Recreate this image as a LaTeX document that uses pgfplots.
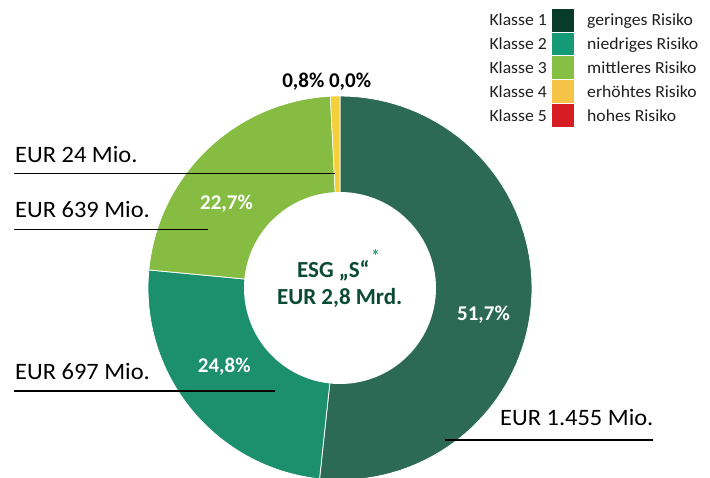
\documentclass[border=0pt]{standalone}
\usepackage{pgfplots}
\usepackage{pgfplotstable}
\pgfplotsset{compat=1.18}
\usepackage{fontspec}
\setmainfont{Carlito}
\newfontfamily\regfont{Carlito}[FakeStretch=1.04]

\definecolor{kA}{HTML}{073C2B}
\definecolor{kB}{HTML}{149A74}
\definecolor{kC}{HTML}{86C043}
\definecolor{kD}{HTML}{F5C446}
\definecolor{kE}{HTML}{D71D24}
\definecolor{dA}{HTML}{2C6A55}
\definecolor{dB}{HTML}{1C8F6C}
\definecolor{dC}{HTML}{85BC41}
\definecolor{dD}{HTML}{F4D03C}
\definecolor{ctr}{HTML}{0B4A33}
\definecolor{ast}{HTML}{1FA37B}

\pgfplotstableread{
cls pct
1 51.7
2 24.8
3 22.7
4 0.8
5 0.0
}\slices

\begin{document}%
\begin{tikzpicture}
\pgfplotstablegetelem{0}{pct}\of\slices \let\pA\pgfplotsretval
\pgfplotstablegetelem{1}{pct}\of\slices \let\pB\pgfplotsretval
\pgfplotstablegetelem{2}{pct}\of\slices \let\pC\pgfplotsretval
\pgfplotstablegetelem{3}{pct}\of\slices \let\pD\pgfplotsretval
\pgfmathsetmacro\aA{90}
\pgfmathsetmacro\aB{\aA-3.6*\pA}
\pgfmathsetmacro\aC{\aB-3.6*\pB}
\pgfmathsetmacro\aD{\aC-3.6*\pC}
\pgfmathsetmacro\aE{\aD-3.6*\pD}
\def\cx{340}\def\cy{288}\def\ro{192}\def\ri{96}
\begin{axis}[
  scale only axis, width=710pt, height=477pt,
  xmin=0, xmax=710, ymin=0, ymax=477, y dir=reverse,
  hide axis, clip=true,
]
% donut wedges
\addplot[fill=dA, draw=white, line width=0.8pt, domain=\aB:\aA, samples=80, variable=\t]
  ({\cx+\ro*cos(\t)},{\cy-\ro*sin(\t)}) -- (axis cs:\cx,\cy) -- cycle;
\addplot[fill=dB, draw=white, line width=0.8pt, domain=\aC:\aB, samples=60, variable=\t]
  ({\cx+\ro*cos(\t)},{\cy-\ro*sin(\t)}) -- (axis cs:\cx,\cy) -- cycle;
\addplot[fill=dC, draw=white, line width=0.8pt, domain=\aD:\aC, samples=60, variable=\t]
  ({\cx+\ro*cos(\t)},{\cy-\ro*sin(\t)}) -- (axis cs:\cx,\cy) -- cycle;
\addplot[fill=dD, draw=white, line width=0.6pt, domain=\aE:\aD, samples=5, variable=\t]
  ({\cx+\ro*cos(\t)},{\cy-\ro*sin(\t)}) -- (axis cs:\cx,\cy) -- cycle;
% hole
\addplot[fill=white, draw=none, domain=0:360, samples=120, variable=\t]
  ({\cx+\ri*cos(\t)},{\cy-\ri*sin(\t)}) -- cycle;

% legend swatches
\addplot[fill=kA, draw=none] coordinates {(552,8.5)(574,8.5)(574,31.5)(552,31.5)} -- cycle;
\addplot[fill=kB, draw=none] coordinates {(552,32.5)(574,32.5)(574,55)(552,55)} -- cycle;
\addplot[fill=kC, draw=none] coordinates {(552,56)(574,56)(574,79)(552,79)} -- cycle;
\addplot[fill=kD, draw=none] coordinates {(552,80)(574,80)(574,103)(552,103)} -- cycle;
\addplot[fill=kE, draw=none] coordinates {(552,104)(574,104)(574,127)(552,127)} -- cycle;

% leader lines
\addplot[black, line width=1.1pt] coordinates {(14,173.3)(335,173.3)};
\addplot[black, line width=1.1pt] coordinates {(14,229.3)(208,229.3)};
\addplot[black, line width=1.1pt] coordinates {(14,391)(275,391)};
\addplot[black, line width=1.1pt] coordinates {(445,440)(653,440)};

% legend text
\begin{scope}[every node/.style={inner sep=0pt, font=\regfont\fontsize{17}{20}\selectfont, text=black!88}]
\node[anchor=base east] at (axis cs:547,25.5) {Klasse 1};
\node[anchor=base east] at (axis cs:547,49) {Klasse 2};
\node[anchor=base east] at (axis cs:547,73) {Klasse 3};
\node[anchor=base east] at (axis cs:547,97) {Klasse 4};
\node[anchor=base east] at (axis cs:547,121) {Klasse 5};
\node[anchor=base west] at (axis cs:587,25.5) {geringes Risiko};
\node[anchor=base west] at (axis cs:587,49) {niedriges Risiko};
\node[anchor=base west] at (axis cs:587,73) {mittleres Risiko};
\node[anchor=base west] at (axis cs:587,97) {erhöhtes Risiko};
\node[anchor=base west] at (axis cs:587,121) {hohes Risiko};
\end{scope}

% amount labels
\begin{scope}[every node/.style={inner sep=0pt, font=\regfont\fontsize{23.5}{28}\selectfont, text=black}]
\node[anchor=base west] at (axis cs:15,162.3) {EUR 24 Mio.};
\node[anchor=base west] at (axis cs:15,217.3) {EUR 639 Mio.};
\node[anchor=base west] at (axis cs:15,379.3) {EUR 697 Mio.};
\node[anchor=base west] at (axis cs:500,425.7) {EUR 1.455 Mio.};
\end{scope}

% percentage labels
\begin{scope}[every node/.style={inner sep=0pt, font=\bfseries\fontsize{21}{25}\selectfont, text=white}]
\node[anchor=base west] at (axis cs:200,209) {22,7\%};
\node[anchor=base west] at (axis cs:197.7,372.3) {24,8\%};
\node[anchor=base east] at (axis cs:510,320) {51,7\%};
\end{scope}
\node[inner sep=0pt, anchor=base, font=\bfseries\fontsize{21}{25}\selectfont] at (axis cs:326.7,87) {0,8\%\ 0,0\%};

% centre text
\node[inner sep=0pt, anchor=base, text=ctr, font=\bfseries\fontsize{23}{27}\selectfont] at (axis cs:333.3,277.3) {ESG „S“};
\node[inner sep=0pt, anchor=base, text=ctr, font=\bfseries\fontsize{23}{27}\selectfont] at (axis cs:339.7,304) {EUR 2,8 Mrd.};
\node[inner sep=0pt, anchor=center, text=ast, font=\bfseries\fontsize{18}{20}\selectfont] at (axis cs:375.5,256) {*};
\end{axis}
\pgfresetboundingbox
\path[use as bounding box] (current axis.south west) rectangle (current axis.north east);
\end{tikzpicture}%
\end{document}
